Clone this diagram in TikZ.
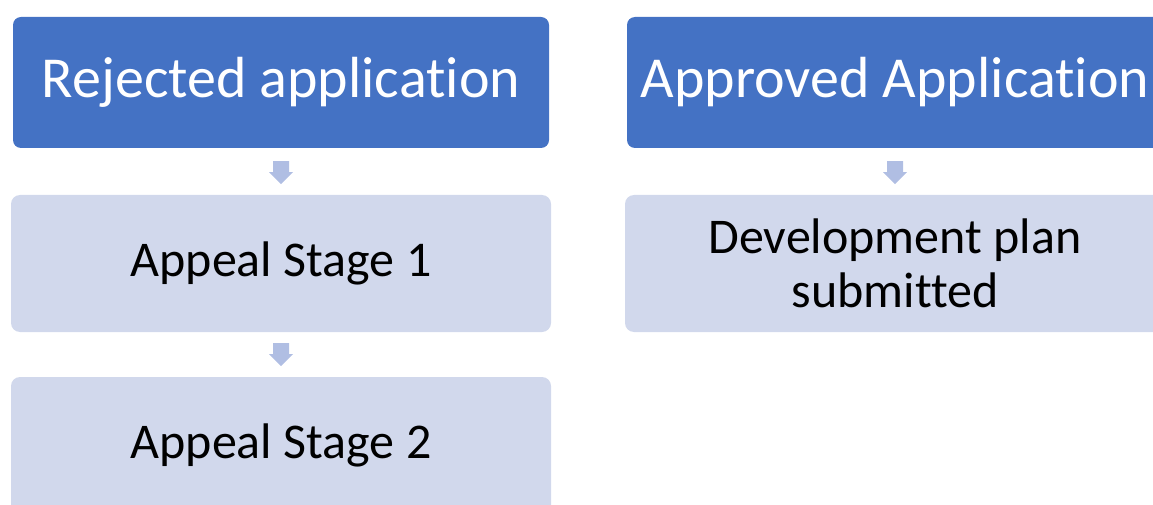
\documentclass[tikz,border=0pt]{standalone}
\usepackage{fontspec}
\setmainfont[Ligatures={NoCommon}]{Carlito}
\usetikzlibrary{calc}
\definecolor{headblue}{HTML}{4472C4}
\definecolor{steppale}{HTML}{D1D8EC}
\definecolor{arrowpale}{HTML}{B0BEE3}
\tikzset{
  headbox/.style={fill=headblue, rounded corners=8pt, text=white,
    minimum width=536pt, minimum height=131pt, inner sep=0pt,
    font=\fontsize{58}{62}\selectfont},
  stepbox/.style={fill=steppale, rounded corners=9pt, text=black,
    minimum width=540pt, minimum height=137pt, inner sep=0pt,
    align=center, font=\fontsize{50}{54}\selectfont},
  arrowfill/.style={fill=arrowpale},
}
% down-pointing block arrow hanging from a given point
\newcommand{\blockarrow}[1]{%
  \fill[arrowfill] ($#1+(-8,0)$) -- ++(16,0) -- ++(0,11) -- ++(4,0)
    -- ++(-12,12) -- ++(-12,-12) -- ++(4,0) -- cycle;}
\begin{document}
\begin{tikzpicture}[x=1pt, y=-1pt]
  \useasboundingbox (0,0) rectangle (1153,505);
  \clip (0,0) rectangle (1153,505);

  % left column: rejection and appeals
  \node[headbox] (rej) at (281,82.5) {Rejected application};
  \node[stepbox] (st1) at (281,263.5) {Appeal Stage 1};
  \node[stepbox] (st2) at (281,445.5) {Appeal Stage 2};

  % right column: approval and follow-up
  \node[headbox] (app) at (895,82.5) {Approved Application};
  \node[stepbox] (dev) at (895,263.5) {Development plan\\submitted};

  % block arrows between the stages
  \blockarrow{(rej.south)+(0,13)}
  \blockarrow{(st1.south)+(0,11)}
  \blockarrow{(app.south)+(0,13)}
\end{tikzpicture}
\end{document}
